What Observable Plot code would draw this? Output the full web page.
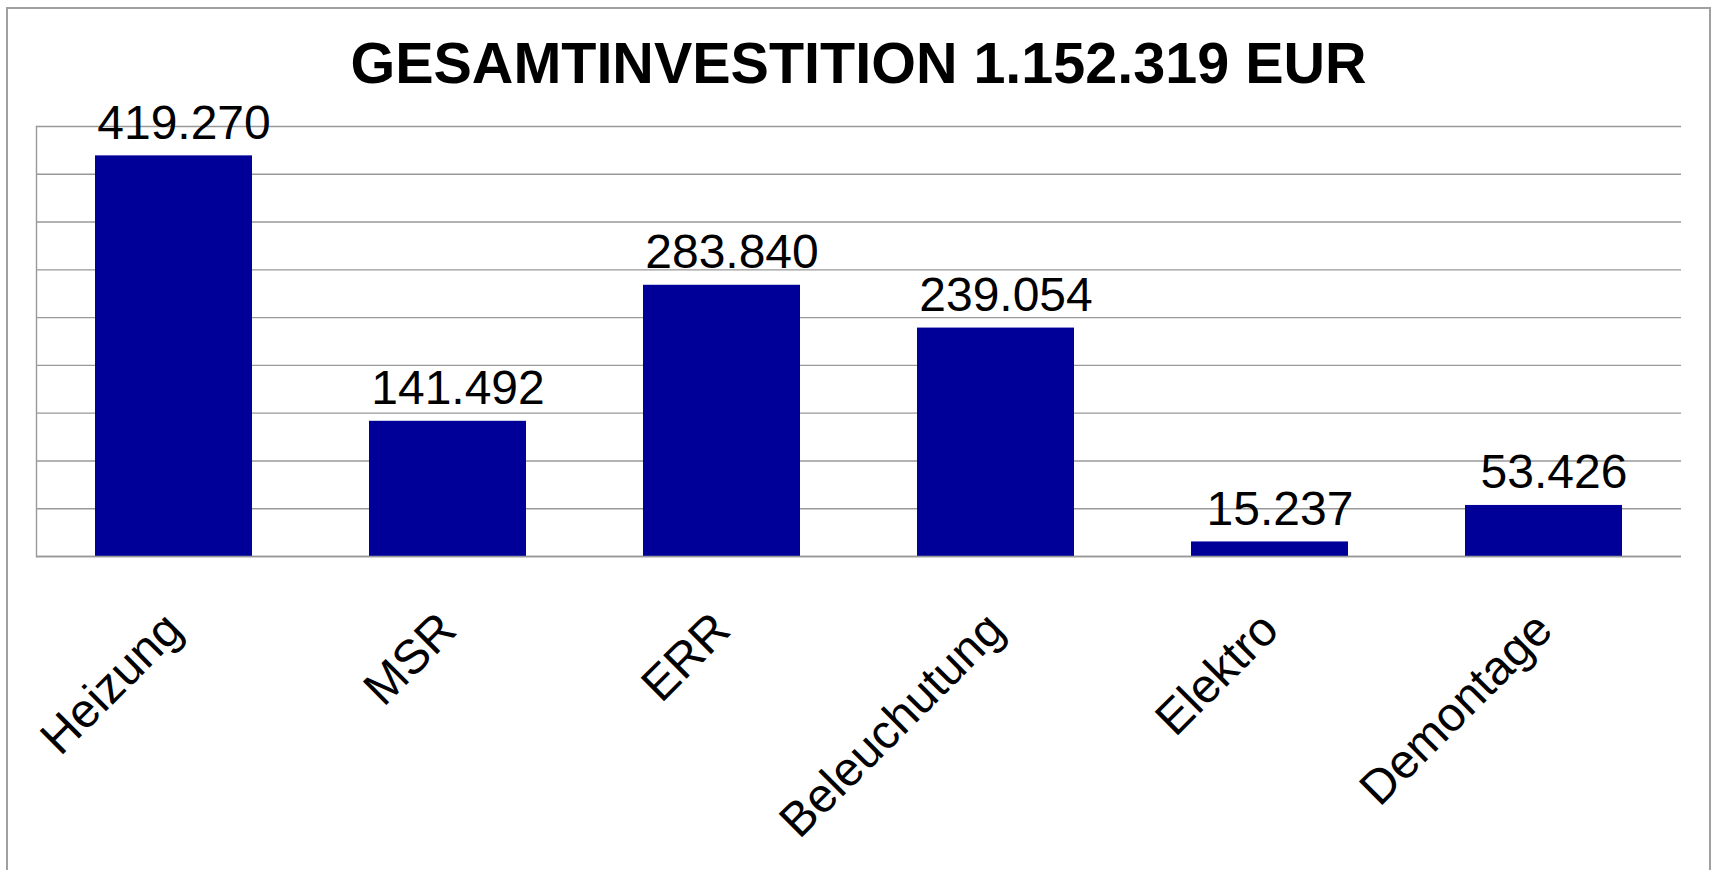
<!DOCTYPE html>
<html>
<head>
<meta charset="utf-8">
<script src="https://cdn.jsdelivr.net/npm/d3@7"></script>
<script src="https://cdn.jsdelivr.net/npm/@observablehq/plot@0.6"></script>
<style>
  html, body { margin: 0; padding: 0; background: #fff; }
  body { width: 1711px; height: 870px; position: relative; overflow: hidden; font-family: "Liberation Sans", Arial, sans-serif; }
  #frame { position: absolute; left: 6px; top: 7px; width: 1705px; height: 900px; border: 2px solid #a0a0a0; box-sizing: border-box; pointer-events: none; }
  #title { margin-left: 6px; width: 1705px; height: 90px; box-sizing: border-box; padding-top: 35px; line-height: 56px; font-size: 57.5px; font-weight: 700; text-align: center; color: #000; white-space: nowrap; }
  #chart svg { display: block; overflow: visible; }
</style>
</head>
<body>
<div id="title">GESAMTINVESTITION 1.152.319 EUR</div>
<div id="chart"></div>
<div id="frame"></div>
<script>
const categories = ["Heizung", "MSR", "ERR", "Beleuchutung", "Elektro", "Demontage"];
const values = [419270, 141492, 283840, 239054, 15237, 53426];
const yTicks = [0, 50000, 100000, 150000, 200000, 250000, 300000, 350000, 400000, 450000];

const de = d3.formatLocale({decimal: ",", thousands: ".", grouping: [3], currency: ["", " €"]});
const fmt = de.format(",d");
const data = categories.map((c, i) => ({category: c, value: values[i]}));

const chart = Plot.plot({
  width: 1711,
  height: 780,
  marginLeft: 36,
  marginRight: 30,
  marginTop: 36,
  marginBottom: 314,
  style: {fontFamily: "'Liberation Sans', Arial, sans-serif", color: "#000", background: "#fff", overflow: "visible"},
  x: {domain: categories, paddingInner: 0.428, paddingOuter: 0.214, label: null},
  y: {domain: [0, 450000], axis: null},
  marks: [
    Plot.gridY(yTicks, {stroke: "#999", strokeOpacity: 1, strokeWidth: 1.4}),
    Plot.frame({anchor: "left", stroke: "#999", strokeWidth: 1.4}),
    Plot.barY(data, {x: "category", y: "value", fill: "#000099"}),
    Plot.ruleY([0], {stroke: "#999", strokeWidth: 1.4}),
    Plot.text(data, {x: "category", y: "value", text: d => fmt(d.value), lineAnchor: "bottom", dy: -17, dx: 10, fontSize: 48, fill: "#000"}),
    Plot.axisX({tickRotate: -45, tickSize: 0, tickPadding: 65, fontSize: 48, fill: "#000", label: null})
  ]
});
document.getElementById("chart").appendChild(chart);
</script>
</body>
</html>
